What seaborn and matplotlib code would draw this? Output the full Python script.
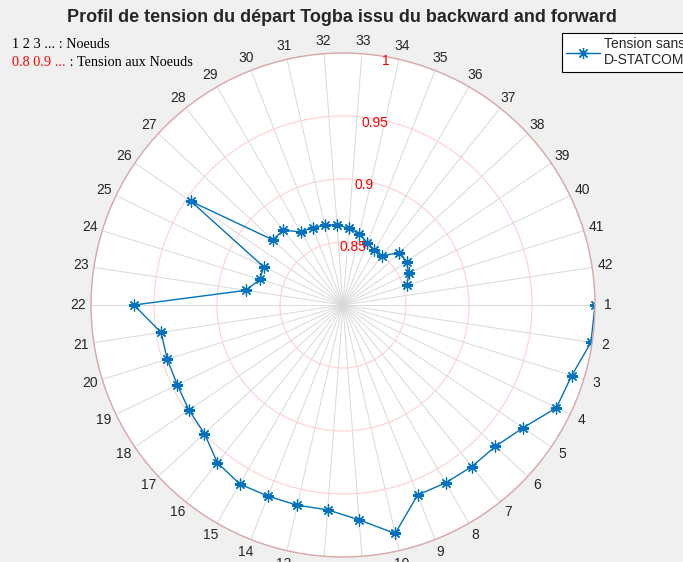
import numpy as np
import matplotlib
matplotlib.use("Agg")
import matplotlib.pyplot as plt
import seaborn as sns

noeuds = np.arange(1, 42)
tension = [1.000, 0.999, 0.990, 0.988, 0.973, 0.965, 0.964, 0.963, 0.962, 0.986,
           0.971, 0.963, 0.963, 0.963, 0.964, 0.960, 0.950, 0.948, 0.946, 0.946,
           0.946, 0.966, 0.878, 0.869, 0.870, 0.946, 0.876, 0.876, 0.867, 0.866,
           0.865, 0.864, 0.861, 0.858, 0.853, 0.850, 0.850, 0.861, 0.861, 0.858,
           0.853]
nb_noeuds = 42
etiquettes_noeuds = [str(k) for k in range(1, nb_noeuds + 1)]
r_ticks = [0.8, 0.85, 0.9, 0.95, 1.0]
r_labels = ['0.8', '0.85', '0.9', '0.95', '1']

# Style
sns.set_style("white")
plt.rcParams['font.family'] = ['Liberation Sans', 'DejaVu Sans']

theta = 2 * np.pi * (noeuds - 1) / nb_noeuds
theta_ticks = 2 * np.pi * np.arange(nb_noeuds) / nb_noeuds

fig = plt.figure(figsize=(6.83, 5.62), dpi=100, facecolor='#f0f0f0')
ax = fig.add_axes([91 / 683, 5 / 562, 504 / 683, 504 / 562], projection='polar')
ax.set_facecolor('white')
ax.set_theta_zero_location('E')
ax.set_theta_direction(-1)

sns.lineplot(x=theta, y=tension, ax=ax, sort=False, color='#0072BD', lw=1.0,
             marker=(8, 2, 0), markersize=8, mec='#0072BD', mew=0.9,
             label='Tension sans\nD-STATCOM', legend=False)

ax.set_ylim(0.8, 1.0)
ax.set_xticks(theta_ticks)
ax.set_xticklabels(etiquettes_noeuds, fontsize=10, color='#262626')
ax.tick_params(axis='x', pad=-1)
ax.set_yticks(r_ticks)
ax.set_yticklabels([])
ax.xaxis.grid(True, color='#d9d9d9', lw=0.7)
ax.yaxis.grid(True, color='#ffd0d0', lw=0.8)
ax.spines['polar'].set_color('#d9a8a8')
ax.spines['polar'].set_linewidth(1.0)
ax.set_xlabel('')
ax.set_ylabel('')

# etiquettes radiales en rouge
for r, lab in zip(r_ticks, r_labels):
    ax.text(np.deg2rad(280), r - 0.003, lab, color='red', fontsize=10,
            ha='center', va='center')

fig.suptitle('Profil de tension du départ Togba issu du backward and forward',
             fontsize=13, fontweight='bold', y=1 - 18 / 562, va='center')

# Legende
leg = ax.legend(loc='upper left', bbox_to_anchor=(562 / 683, 1 - 33 / 562),
                bbox_transform=fig.transFigure, fontsize=10, frameon=True,
                fancybox=False, edgecolor='black', framealpha=1,
                handlelength=2.4, handletextpad=0.3, borderpad=0.3,
                borderaxespad=0)
leg.get_frame().set_linewidth(0.8)

# Annotation en haut a gauche
serif = ['Liberation Serif', 'DejaVu Serif']
fig.text(12 / 683, 1 - 45 / 562, '1 2 3 ... : Noeuds', fontsize=10.3,
         family=serif, color='black', va='center')
t_red = fig.text(12 / 683, 1 - 62 / 562, '0.8 0.9 ...', fontsize=10.3,
                 family=serif, color='red', va='center')
fig.canvas.draw()
bb = t_red.get_window_extent()
fig.text(bb.x1 / fig.bbox.width, 1 - 62 / 562, ' : Tension aux Noeuds',
         fontsize=10.3, family=serif, color='black', va='center')

fig.savefig('out.png', dpi=100, facecolor=fig.get_facecolor())
